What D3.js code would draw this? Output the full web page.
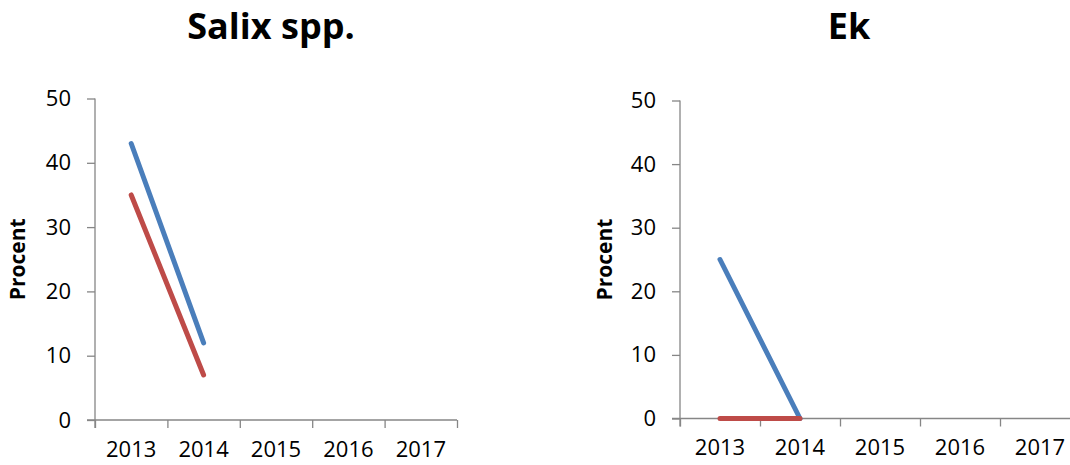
<!DOCTYPE html>
<meta charset="utf-8">
<script src="https://d3js.org/d3.v7.min.js"></script>
<style>
  body { margin: 0; background: #fff; }
  text { font-family: "Open Sans", Lato, sans-serif; }
</style>
<div id="my_dataviz"></div>
<script>

// data
var years = ["2013", "2014", "2015", "2016", "2017"];
var yTicks = [0, 10, 20, 30, 40, 50];

var salixBlue = [43, 12, null, null, null];
var salixRed  = [35, 7, null, null, null];
var ekBlue = [25, 0, null, null, null];
var ekRed  = [0, 0, null, null, null];

var panels = [
  {title: "Salix spp.", titleX: 271, left: 95, right: 457, top: 98.5, bottom: 420, ylabX: 18, blue: salixBlue, red: salixRed},
  {title: "Ek", titleX: 849, left: 680, right: 1080, top: 100.5, bottom: 418.5, ylabX: 605, blue: ekBlue, red: ekRed}
];

var axisColor = "#868686";
var blueColor = "#4a7ebb";
var redColor = "#be4b48";

var svg = d3.select("#my_dataviz")
  .append("svg")
  .attr("width", 1070)
  .attr("height", 465);

panels.forEach(function(p) {
  var g = svg.append("g");

  var x = d3.scaleBand()
    .domain(years)
    .range([p.left, p.right])
    .padding(0);

  // linear scale used only for the tick marks between categories
  var xEdge = d3.scaleLinear()
    .domain([0, years.length])
    .range([p.left, p.right]);

  var y = d3.scaleLinear()
    .domain([0, 50])
    .range([p.bottom, p.top]);

  // title
  g.append("text")
    .attr("x", p.titleX)
    .attr("y", 39)
    .attr("text-anchor", "middle")
    .style("font-size", "36px")
    .style("font-weight", "bold")
    .text(p.title);

  // y axis label
  g.append("text")
    .attr("transform", "translate(" + (p.ylabX + 7) + "," + ((p.top + p.bottom) / 2) + ") rotate(-90)")
    .attr("text-anchor", "middle")
    .style("font-size", "21px")
    .style("font-weight", "bold")
    .text("Procent");

  // y axis
  var yAxis = g.append("g")
    .attr("transform", "translate(" + p.left + ",0)")
    .call(d3.axisLeft(y).tickValues(yTicks).tickSize(8).tickPadding(16));
  yAxis.select(".domain").remove();
  yAxis.append("line")
    .attr("x1", 0).attr("x2", 0)
    .attr("y1", p.top).attr("y2", p.bottom + 8)
    .attr("stroke", axisColor).attr("stroke-width", 1.3);

  // x axis tick marks at band edges
  var xMarks = g.append("g")
    .attr("transform", "translate(0," + p.bottom + ")")
    .call(d3.axisBottom(xEdge).ticks(years.length).tickSize(8).tickFormat(""));
  xMarks.select(".domain").remove();
  xMarks.append("line")
    .attr("x1", p.left - 8).attr("x2", p.right)
    .attr("stroke", axisColor).attr("stroke-width", 1.3);

  // x axis labels
  var xLabels = g.append("g")
    .attr("transform", "translate(0," + p.bottom + ")")
    .call(d3.axisBottom(x).tickSize(0).tickPadding(21));
  xLabels.select(".domain").remove();

  [yAxis, xMarks].forEach(function(a) {
    a.selectAll(".tick line").attr("stroke", axisColor).attr("stroke-width", 1.3);
  });
  g.selectAll(".tick text")
    .style("font-size", "22px")
    .style("font-family", "'Open Sans', Lato, sans-serif")
    .attr("fill", "#000");

  // lines
  var line = d3.line()
    .defined(function(d) { return d != null; })
    .x(function(d, i) { return x(years[i]) + x.bandwidth() / 2; })
    .y(function(d) { return y(d); });

  [[p.blue, blueColor], [p.red, redColor]].forEach(function(s) {
    g.append("path")
      .datum(s[0])
      .attr("d", line)
      .attr("fill", "none")
      .attr("stroke", s[1])
      .attr("stroke-width", 5)
      .attr("stroke-linecap", "round")
      .attr("stroke-linejoin", "round");
  });
});

</script>
